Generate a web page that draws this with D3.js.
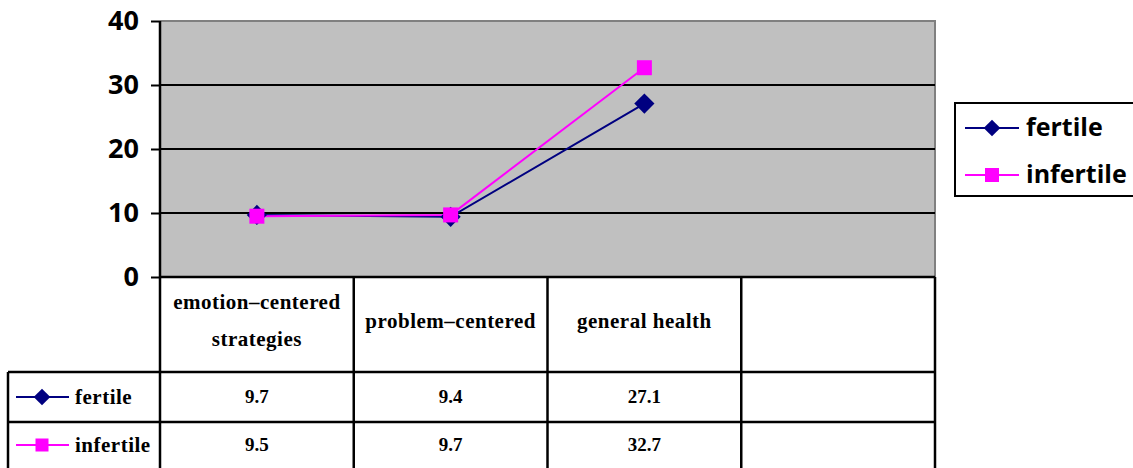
<!DOCTYPE html>
<html>
<head>
<meta charset="utf-8">
<script src="https://cdn.jsdelivr.net/npm/d3@7"></script>
<style>
  body { margin: 0; background: #fff; }
  svg { display: block; }
  .serif { font-family: "Liberation Serif", "DejaVu Serif", serif; font-weight: bold; font-size: 19px; fill: #000; }
  .serif.wide { font-size: 21px; letter-spacing: 0.5px; }
  .sans { font-family: "Open Sans", "Liberation Sans", sans-serif; font-weight: bold; fill: #000; }
</style>
</head>
<body>
<div id="chart"></div>
<script>
// data
var categories = [["emotion–centered", "strategies"], ["problem–centered"], ["general health"], [""]];
var seriesNames = ["fertile", "infertile"];
var fertile = [9.7, 9.4, 27.1];
var infertile = [9.5, 9.7, 32.7];
var tableFertile = ["9.7", "9.4", "27.1", ""];
var tableInfertile = ["9.5", "9.7", "32.7", ""];
var yTicks = [0, 10, 20, 30, 40];

var width = 1133, height = 468;
var plot = {left: 160, right: 935, top: 21, bottom: 277};
var colors = {fertile: "#000080", infertile: "#ff00ff"};

var svg = d3.select("#chart").append("svg")
  .attr("width", width)
  .attr("height", height);

var x = d3.scaleBand()
  .domain(d3.range(categories.length))
  .range([plot.left, plot.right]);

var y = d3.scaleLinear()
  .domain([0, 40])
  .range([plot.bottom, plot.top]);

// plot background
svg.append("rect")
  .attr("x", plot.left).attr("y", plot.top)
  .attr("width", plot.right - plot.left)
  .attr("height", plot.bottom - plot.top)
  .style("fill", "#c0c0c0");

svg.append("path")
  .attr("d", "M" + plot.left + "," + plot.top + "H" + plot.right + "V" + plot.bottom)
  .style("fill", "none")
  .style("stroke", "#808080")
  .style("stroke-width", 2);

// gridlines
svg.selectAll("line.grid")
  .data(yTicks.filter(function(d){ return d > 0 && d < 40; }))
  .enter().append("line")
  .attr("class", "grid")
  .attr("x1", plot.left).attr("x2", plot.right)
  .attr("y1", function(d){ return y(d); })
  .attr("y2", function(d){ return y(d); })
  .style("stroke", "#000")
  .style("stroke-width", 2);

// y axis
var yAxis = d3.axisLeft(y).tickValues(yTicks).tickSize(9).tickPadding(12);
var gy = svg.append("g")
  .attr("transform", "translate(" + plot.left + ",0)")
  .call(yAxis);
gy.select(".domain").remove();
gy.attr("font-family", null).attr("font-size", null);
gy.selectAll(".tick line").style("stroke", "#000").style("stroke-width", 2);
gy.selectAll(".tick text")
  .attr("class", "sans")
  .style("font-size", "27px");

// data table
var tableTop = plot.bottom, row1 = 372, row2 = 422, tableBottom = 470, tableLeft = 8;
var lineStyle = function(sel){ return sel.style("stroke", "#000").style("stroke-width", 2.5); };

svg.append("line").attr("x1", plot.left).attr("x2", plot.left)
  .attr("y1", plot.top).attr("y2", tableBottom).call(lineStyle);
svg.append("line").attr("x1", plot.left).attr("x2", plot.right)
  .attr("y1", tableTop).attr("y2", tableTop).call(lineStyle);

var colEdges = d3.range(categories.length + 1).map(function(i){
  return i < categories.length ? x(i) : x(categories.length - 1) + x.bandwidth();
});
svg.selectAll("line.col")
  .data(colEdges.slice(1))
  .enter().append("line")
  .attr("class", "col")
  .attr("x1", function(d){ return d; }).attr("x2", function(d){ return d; })
  .attr("y1", tableTop).attr("y2", tableBottom)
  .call(lineStyle);

[row1, row2].forEach(function(ry){
  svg.append("line").attr("x1", tableLeft).attr("x2", plot.right)
    .attr("y1", ry).attr("y2", ry).call(lineStyle);
});
svg.append("line").attr("x1", tableLeft).attr("x2", tableLeft)
  .attr("y1", row1).attr("y2", tableBottom).call(lineStyle);

// header labels
categories.forEach(function(lines, i){
  var cx = x(i) + x.bandwidth() / 2;
  var mid = (tableTop + row1) / 2 + 3;
  var t = svg.append("text")
    .attr("class", "serif wide")
    .attr("text-anchor", "middle");
  lines.forEach(function(l, j){
    t.append("tspan")
      .attr("x", cx)
      .attr("y", mid + (j - (lines.length - 1) / 2) * 37)
      .text(l);
  });
});

// table values
[tableFertile, tableInfertile].forEach(function(vals, r){
  var cy = r === 0 ? (row1 + row2) / 2 + 6 : (row2 + tableBottom) / 2 + 5;
  svg.selectAll(null)
    .data(vals)
    .enter().append("text")
    .attr("class", "serif")
    .attr("x", function(d, i){ return x(i) + x.bandwidth() / 2; })
    .attr("y", cy)
    .attr("text-anchor", "middle")
    .text(function(d){ return d; });
});

// markers
function marker(g, name, cx, cy, size) {
  if (name === "fertile") {
    g.append("path")
      .attr("d", d3.symbol(d3.symbolDiamond2, size * size * 0.9)())
      .attr("transform", "translate(" + cx + "," + cy + ")")
      .style("fill", colors.fertile);
  } else {
    g.append("rect")
      .attr("x", cx - size / 2).attr("y", cy - size / 2)
      .attr("width", size).attr("height", size)
      .style("fill", colors.infertile);
  }
}

// row legend keys in table
seriesNames.forEach(function(name, r){
  var cy = r === 0 ? (row1 + row2) / 2 : (row2 + tableBottom) / 2 - 1;
  var g = svg.append("g");
  g.append("line").attr("x1", 16).attr("x2", 69).attr("y1", cy).attr("y2", cy)
    .style("stroke", colors[name]).style("stroke-width", 2);
  marker(g, name, 42, cy, name === "fertile" ? 14 : 13);
  g.append("text").attr("class", "serif wide").attr("x", 75).attr("y", cy + 7).text(name);
});

// lines
var line = d3.line()
  .x(function(d, i){ return x(i) + x.bandwidth() / 2; })
  .y(function(d){ return y(d); });

[["fertile", fertile], ["infertile", infertile]].forEach(function(s){
  svg.append("path")
    .datum(s[1])
    .attr("d", line)
    .style("fill", "none")
    .style("stroke", colors[s[0]])
    .style("stroke-width", 2);
});
[["fertile", fertile], ["infertile", infertile]].forEach(function(s){
  var g = svg.append("g");
  s[1].forEach(function(v, i){
    marker(g, s[0], x(i) + x.bandwidth() / 2, y(v), s[0] === "fertile" ? 17 : 15);
  });
});

// legend
var lg = svg.append("g");
lg.append("rect")
  .attr("x", 955).attr("y", 103)
  .attr("width", 180).attr("height", 93)
  .style("fill", "#fff")
  .style("stroke", "#000")
  .style("stroke-width", 2);
seriesNames.forEach(function(name, i){
  var cy = 128 + i * 47;
  lg.append("line").attr("x1", 965).attr("x2", 1019).attr("y1", cy).attr("y2", cy)
    .style("stroke", colors[name]).style("stroke-width", 2);
  marker(lg, name, 992, cy, 14);
  lg.append("text").attr("class", "sans").attr("x", 1026).attr("y", cy + 8)
    .style("font-size", "25px")
    .text(name);
});
</script>
</body>
</html>
